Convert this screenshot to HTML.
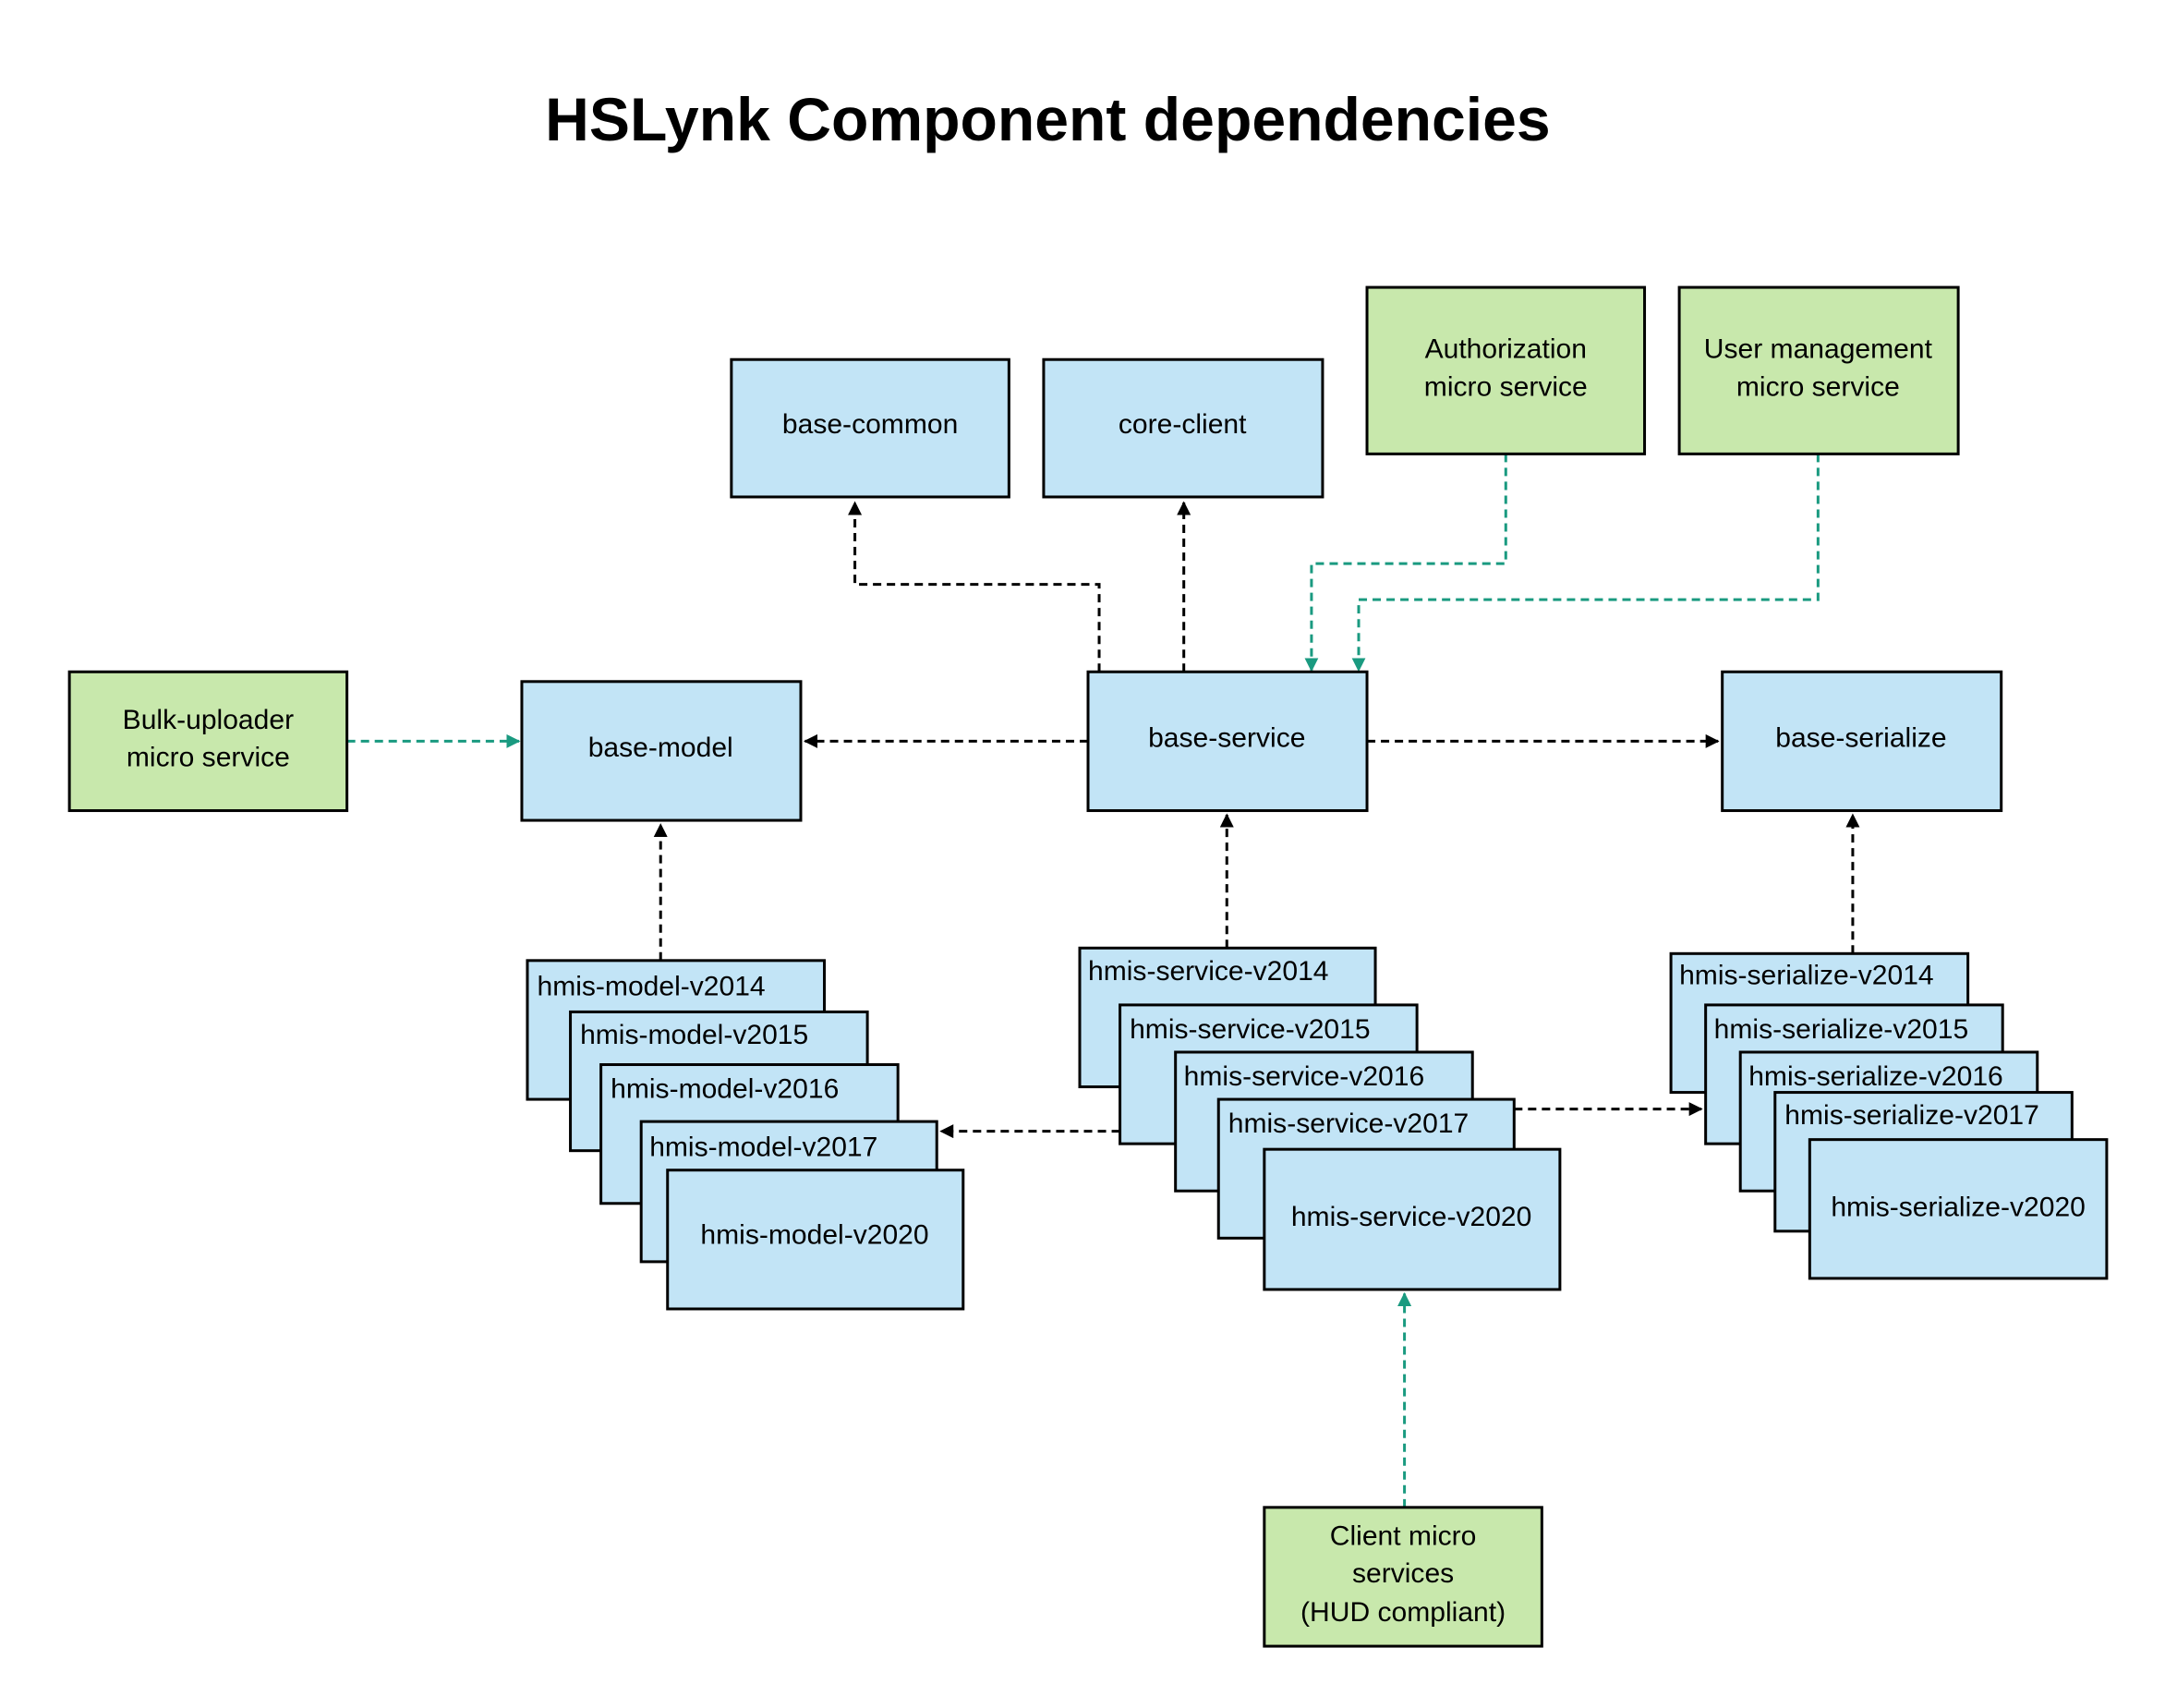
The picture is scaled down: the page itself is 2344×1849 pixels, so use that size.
<!DOCTYPE html>
<html><head><meta charset="utf-8"><style>
html,body{margin:0;padding:0;background:#fff;}
svg{display:block;}
text{font-family:"Liberation Sans",sans-serif;fill:#000;}
</style></head><body>
<svg width="2344" height="1849" viewBox="0 0 1560 1230.5" xmlns="http://www.w3.org/2000/svg">
<defs>
<marker id="ab" markerWidth="10" markerHeight="10" refX="9" refY="5" orient="auto" markerUnits="userSpaceOnUse"><path d="M0,0 L10,5 L0,10 z" fill="#000"/></marker>
<marker id="ag" markerWidth="10" markerHeight="10" refX="9" refY="5" orient="auto" markerUnits="userSpaceOnUse"><path d="M0,0 L10,5 L0,10 z" fill="#1a9a80"/></marker>
</defs>
<text x="755" y="101" font-size="44" font-weight="bold" text-anchor="middle">HSLynk Component dependencies</text>

<g fill="none" stroke-width="2" stroke-dasharray="6,4">
<path d="M792,484 V421 H616 V362" stroke="#000" marker-end="url(#ab)"/>
<path d="M853,484 V362" stroke="#000" marker-end="url(#ab)"/>
<path d="M1085,327 V406 H945 V483" stroke="#1a9a80" marker-end="url(#ag)"/>
<path d="M1310,327 V432 H979 V483" stroke="#1a9a80" marker-end="url(#ag)"/>
<path d="M250,534 H374" stroke="#1a9a80" marker-end="url(#ag)"/>
<path d="M784,534 H580" stroke="#000" marker-end="url(#ab)"/>
<path d="M985,534 H1238" stroke="#000" marker-end="url(#ab)"/>
<path d="M476,692 V594" stroke="#000" marker-end="url(#ab)"/>
<path d="M884,683 V587" stroke="#000" marker-end="url(#ab)"/>
<path d="M1335,687 V587" stroke="#000" marker-end="url(#ab)"/>
<path d="M807,815 H678" stroke="#000" marker-end="url(#ab)"/>
<path d="M1091,799 H1226" stroke="#000" marker-end="url(#ab)"/>
<path d="M1012,1086 V932" stroke="#1a9a80" marker-end="url(#ag)"/>
</g>

<g stroke="#000" stroke-width="2">
<g fill="#c2e4f6">
<rect x="527" y="259" width="200" height="99"/>
<rect x="752" y="259" width="201" height="99"/>
<rect x="376" y="491" width="201" height="100"/>
<rect x="784" y="484" width="201" height="100"/>
<rect x="1241" y="484" width="201" height="100"/>
<rect x="380" y="692" width="214" height="100"/>
<rect x="411" y="729" width="214" height="100"/>
<rect x="433" y="767" width="214" height="100"/>
<rect x="462" y="808" width="213" height="101"/>
<rect x="481" y="843" width="213" height="100"/>
<rect x="778" y="683" width="213" height="100"/>
<rect x="807" y="724" width="214" height="100"/>
<rect x="847" y="758" width="214" height="100"/>
<rect x="878" y="792" width="213" height="100"/>
<rect x="911" y="828" width="213" height="101"/>
<rect x="1204" y="687" width="214" height="100"/>
<rect x="1229" y="724" width="214" height="100"/>
<rect x="1254" y="758" width="214" height="100"/>
<rect x="1279" y="787" width="214" height="100"/>
<rect x="1304" y="821" width="214" height="100"/>
</g>
<g fill="#c8e8ac">
<rect x="985" y="207" width="200" height="120"/>
<rect x="1210" y="207" width="201" height="120"/>
<rect x="50" y="484" width="200" height="100"/>
<rect x="911" y="1086" width="200" height="100"/>
</g>
</g>

<g font-size="20" text-anchor="middle">
<text x="627" y="312">base-common</text>
<text x="852" y="312">core-client</text>
<text x="1085" y="258">Authorization</text>
<text x="1085" y="285">micro service</text>
<text x="1310" y="258">User management</text>
<text x="1310" y="285">micro service</text>
<text x="150" y="525">Bulk-uploader</text>
<text x="150" y="552">micro service</text>
<text x="476" y="545">base-model</text>
<text x="884" y="538">base-service</text>
<text x="1341" y="538">base-serialize</text>
<text x="587" y="896">hmis-model-v2020</text>
<text x="1017" y="883">hmis-service-v2020</text>
<text x="1411" y="876">hmis-serialize-v2020</text>
<text x="1011" y="1113">Client micro</text>
<text x="1011" y="1140">services</text>
<text x="1011" y="1168">(HUD compliant)</text>
</g>
<g font-size="20">
<text x="387" y="717">hmis-model-v2014</text>
<text x="418" y="752">hmis-model-v2015</text>
<text x="440" y="791">hmis-model-v2016</text>
<text x="468" y="833">hmis-model-v2017</text>
<text x="784" y="706">hmis-service-v2014</text>
<text x="814" y="748">hmis-service-v2015</text>
<text x="853" y="782">hmis-service-v2016</text>
<text x="885" y="816">hmis-service-v2017</text>
<text x="1210" y="709">hmis-serialize-v2014</text>
<text x="1235" y="748">hmis-serialize-v2015</text>
<text x="1260" y="782">hmis-serialize-v2016</text>
<text x="1286" y="810">hmis-serialize-v2017</text>
</g>
</svg>
</body></html>
